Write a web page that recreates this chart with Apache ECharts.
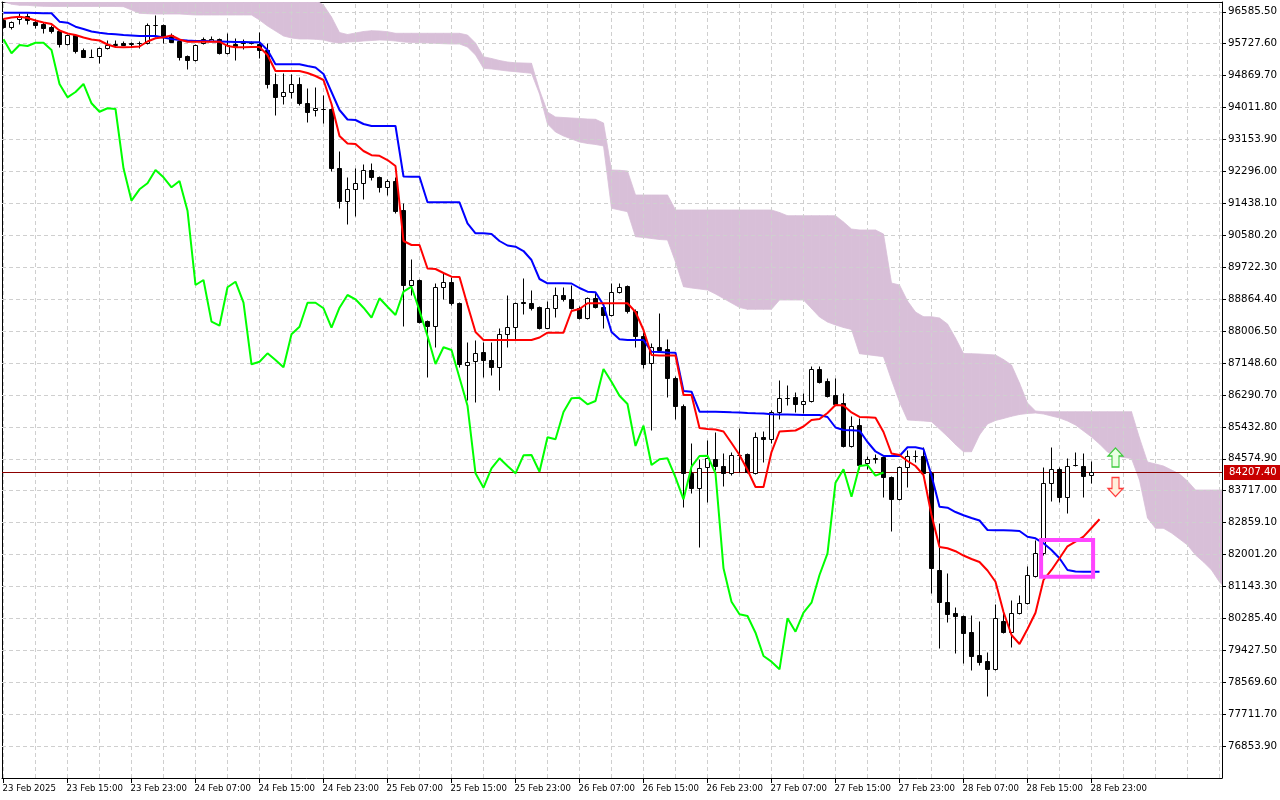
<!DOCTYPE html>
<html><head><meta charset="utf-8">
<script src="https://cdn.jsdelivr.net/npm/echarts@6/dist/echarts.min.js"></script>
<style>html,body{margin:0;padding:0;background:#fff}#chart{width:1280px;height:800px}</style>
</head><body><div id="chart"></div>
<script>
const timeLabels = ['23 Feb 2025','23 Feb 15:00','23 Feb 23:00','24 Feb 07:00','24 Feb 15:00','24 Feb 23:00',
  '25 Feb 07:00','25 Feb 15:00','25 Feb 23:00','26 Feb 07:00','26 Feb 15:00','26 Feb 23:00',
  '27 Feb 07:00','27 Feb 15:00','27 Feb 23:00','28 Feb 07:00','28 Feb 15:00','28 Feb 23:00'];
const labelBars = [0,8,16,24,32,40,48,56,64,72,80,88,96,104,112,120,128,136];
const gridBars = [0,4,8,12,16,20,24,28,32,36,40,44,48,52,56,60,64,68,72,76,80,84,88,92,96,100,104,108,112,116,120,124,128,132,136,140,144,148,152];
const yTicks = [96585.5,95727.6,94869.7,94011.8,93153.9,92296.0,91438.1,90580.2,89722.3,88864.4,88006.5,87148.6,
  86290.7,85432.8,84574.9,83717.0,82859.1,82001.2,81143.3,80285.4,79427.5,78569.6,77711.7,76853.9];

const opens = [96365,96169,96400,96473,96320,96258,96185,96078,95712,95962,
 95559,95384,95398,95605,95693,95755,95731,95736,95739,96228,
 96231,95962,95809,95398,95290,95739,95809,95847,95470,95720,
 95761,95750,95720,95559,94646,94323,94423,94646,94143,93939,
 93966,93974,92397,91510,91816,91977,92335,92155,91870,92039,
 91260,89245,89379,88285,88151,89183,89333,88769,87095,87203,
 87436,87229,87033,87920,88124,88782,88753,88645,88097,88635,
 88976,88860,88635,88366,88887,88662,88439,89065,89218,88554,
 87874,87141,87587,87517,86754,86001,84185,83798,84346,84561,
 84381,84185,84669,84696,84201,85152,85099,85832,86208,86227,
 86047,86128,86988,86665,86289,86066,84919,85483,84454,84580,
 84615,84077,83486,84362,84655,84650,84201,81587,80735,80423,
 80351,79929,79303,79150,78919,80216,79929,80439,80708,81434,
 82035,83933,84293,83556,84395,84381,84139];
const highs = [96419,96338,96545,96545,96392,96312,96231,96123,95989,95989,
 95605,95586,95640,95828,95828,95788,95782,95801,96293,96500,
 96258,96016,95828,95425,95720,95917,95935,95882,96024,95874,
 95847,95801,96051,95755,94941,94933,94914,94842,94530,94557,
 94350,94001,92845,92155,92380,92496,92515,92174,92093,92155,
 91440,89935,89406,88304,89290,89575,89452,88788,87721,87767,
 87721,87721,88081,88976,88788,89425,89110,88680,88823,89183,
 89199,89245,88680,88922,89065,88707,89290,89290,89245,88600,
 87990,87678,88484,87786,86800,86047,85007,84561,85080,85303,
 84722,84765,85394,84731,85303,85330,85886,86692,86558,86378,
 86335,87068,87068,86738,86738,86351,85733,85679,84650,84704,
 84650,84112,84381,84811,84811,84892,84247,82842,81498,80601,
 80378,80378,80224,79391,80673,80466,80781,80915,81694,82393,
 84346,84900,84354,84588,84765,84722,84524];
const lows = [96150,96115,96258,96258,96142,96024,96016,95640,95693,95487,
 95363,95371,95210,95599,95648,95693,95648,95613,95720,95917,
 95739,95774,95290,95041,95264,95720,95788,95452,95452,95290,
 95578,95720,95336,94530,93813,94108,94261,94081,93633,93786,
 93590,92316,91306,90876,91107,91547,92066,91752,91663,91171,
 88143,88976,88216,86781,87587,88860,88699,87049,86155,86109,
 86781,86826,86423,87571,87767,88457,88573,88062,88089,88377,
 88815,88600,88331,88331,88627,88081,88412,89030,88484,87571,
 87006,85349,87444,86243,85636,83288,83664,82213,83406,84274,
 83844,84139,84228,84193,84166,84497,85007,85636,86020,85840,
 85813,86101,86611,86235,86020,84892,84892,84293,84293,84470,
 83556,82643,83468,83825,84489,84139,80961,79483,80198,79348,
 79080,78900,79034,78201,78900,79894,79526,80404,80673,81399,
 81990,83449,83422,83127,84368,83540,83933];
const closes = [96190,96303,96473,96365,96231,96158,96078,95712,95962,95540,
 95379,95379,95605,95693,95720,95702,95739,95739,96231,96236,
 95917,95782,95379,95290,95693,95847,95847,95470,95693,95667,
 95755,95755,95559,94646,94288,94431,94646,94127,93901,93993,
 93974,92380,91510,91816,91977,92335,92139,91870,92039,91241,
 89245,89379,88259,88151,89183,89333,88769,87114,87184,87409,
 87229,87033,87920,88124,88769,88769,88619,88097,88635,88976,
 88860,88635,88366,88887,88662,88439,89065,89199,88554,87874,
 87122,87571,87498,86754,86001,84185,83798,84319,84588,84381,
 84185,84669,84677,84228,85152,85099,85832,86200,86216,86039,
 86128,86988,86646,86270,86047,84919,85464,84408,84561,84588,
 84077,83486,84362,84650,84658,84185,81632,80735,80396,80351,
 79902,79276,79123,78919,80289,79929,80439,80708,81452,82035,
 83933,84293,83556,84381,84408,84121,84207.4];

const tenkan = [96392,96432,96454,96419,96352,96298,96258,96083,96003,95962,
 95895,95841,95814,95707,95640,95632,95640,95653,95788,95874,
 95900,95949,95841,95782,95782,95782,95782,95782,95667,95632,
 95632,95640,95640,95425,94995,94995,94995,94995,94941,94861,
 94753,94108,93248,93047,93033,92845,92732,92716,92603,92442,
 90427,90319,90319,89688,89675,89567,89468,89460,88707,87982,
 87767,87767,87767,87767,87767,87767,87767,87834,87963,87963,
 87963,88546,88600,88753,88753,88753,88753,88753,88753,88519,
 88036,87364,87350,87350,87350,86289,86289,85402,85375,85362,
 85308,84999,84677,84274,83817,83817,84757,85308,85322,85335,
 85443,85617,85644,85805,86020,86007,85819,85698,85690,85679,
 85295,84717,84677,84516,84381,84139,83065,82205,82170,82092,
 81976,81882,81802,81573,81272,80458,79840,79598,80001,80439,
 81318,81587,81901,82224,82347,82482,82715,82949];
const kijun = [96561,96561,96561,96561,96553,96545,96545,96320,96293,96185,
 96123,96056,96024,95997,95981,95962,95949,95935,95935,95935,
 95895,95855,95828,95814,95801,95801,95793,95788,95782,95774,
 95774,95766,95766,95559,95175,95175,95175,95175,95129,95089,
 94914,94431,93947,93692,93678,93571,93517,93517,93517,93517,
 92160,92155,92155,91467,91467,91467,91467,91467,90903,90634,
 90634,90615,90427,90306,90274,90158,89916,89406,89290,89290,
 89290,89285,89164,89065,89049,88707,87982,87786,87767,87767,
 87767,87452,87444,87431,87426,86396,86378,85840,85840,85840,
 85832,85824,85819,85805,85797,85792,85770,85765,85762,85757,
 85752,85752,85752,85698,85416,85349,85340,85330,85026,84771,
 84650,84650,84650,84884,84884,84838,84126,83288,83261,83145,
 83057,82984,82917,82662,82656,82653,82648,82635,82479,82439,
 82304,82124,81901,81587,81546,81541,81541,81541];
const chikouShift = 26;

const cloudUpper = [97300,97300,97300,97300,97300,97300,97300,97300,97300,97300,
 97300,97300,97300,97300,97300,97300,97300,97300,97300,97300,
 97300,97300,97300,97300,97300,97300,97300,97300,97300,97300,
 97300,97250,97250,97250,97250,97250,97150,97050,96980,96900,
 96768,96446,96029,95976,96016,96056,96078,96070,96051,96008,
 96008,96008,96008,96008,96008,96008,96008,96008,95962,95747,
 95379,95331,95277,95237,95215,95210,95202,94484,93893,93759,
 93745,93732,93719,93705,93697,93598,92335,92327,92308,91663,
 91663,91663,91663,91663,91260,91260,91260,91260,91260,91260,
 91260,91260,91260,91260,91260,91260,91260,91193,91107,91107,
 91107,91107,91107,91107,91107,90938,90749,90723,90723,90723,
 90615,89298,89245,88815,88519,88393,88393,88358,88197,87820,
 87404,87399,87391,87377,87364,87243,87095,86611,86074,85859,
 85840,85840,85840,85840,85840,85840,85840,85840,85840,85840,
 85840,85840,85134,84489,84435,84381,84274,84166,83978,83736,
 83736,83736,83736,83736];
const cloudLower = [96860,96790,96760,96760,96741,96733,96728,96728,96728,96728,
 96728,96728,96728,96728,96728,96723,96634,96545,96535,96526,
 96526,96526,96526,96513,96500,96500,96500,96500,96500,96500,
 96500,96500,96365,96204,96070,95935,95882,95855,95855,95847,
 95828,95774,95739,95774,95782,95801,95814,95828,95820,95801,
 95774,95761,95755,95747,95739,95728,95720,95720,95640,95425,
 95067,95049,95022,94995,94976,94955,94933,94377,93571,93356,
 93248,93168,93087,93047,93020,92980,91306,91260,91214,90543,
 90521,90494,90467,90454,89863,89199,89164,89137,89110,89003,
 88882,88761,88640,88592,88592,88592,88592,88842,88842,88842,
 88842,88613,88385,88250,88170,88103,88049,87399,87372,87345,
 87318,86692,86101,85617,85604,85590,85572,85375,85174,84959,
 84765,84765,85214,85510,85604,85658,85717,85765,85792,85805,
 85778,85724,85671,85590,85483,85322,85160,84972,84757,84650,
 84610,84583,84005,82984,82707,82707,82581,82420,82258,81990,
 81802,81587,81264,81049];

const lastPrice = 84207.4;
const arrowUp = [139, 84610];
const arrowDown = [139, 83817];
const boxFrom = [129.7, 82393];
const boxTo = [136.2, 81407];

const xMin = -0.1875, xMax = 152.3125;
const yMin = 75997.7, yMax = 96848.9;
const FONT = 'DejaVu Sans';
const CLOUD = '#D8BFD8';

const candleData = opens.map((o, i) => [i, o, closes[i], lows[i], highs[i]]);
const chikouData = closes.slice(chikouShift).map((c, i) => [i, c]);
const cloudData = [];
for (let i = 0; i < cloudUpper.length - 1; i++) {
  cloudData.push([i, cloudUpper[i], cloudLower[i], cloudUpper[i + 1], cloudLower[i + 1]]);
}

function renderCloud(params, api) {
  const i = api.value(0);
  const pts = [
    api.coord([i, api.value(1)]),
    api.coord([i + 1, api.value(3)]),
    api.coord([i + 1, api.value(4)]),
    api.coord([i, api.value(2)])
  ];
  return { type: 'polygon', shape: { points: pts },
    style: { fill: CLOUD, stroke: CLOUD, lineWidth: 0.8 } };
}

function renderCandle(params, api) {
  const i = api.value(0), o = api.value(1), c = api.value(2), l = api.value(3), h = api.value(4);
  const pO = api.coord([i, o]), pC = api.coord([i, c]), pL = api.coord([i, l]), pH = api.coord([i, h]);
  const cx = Math.floor(pO[0]) + 0.5;
  const yTop = Math.round(Math.min(pO[1], pC[1])) + 0.5;
  const yBot = Math.round(Math.max(pO[1], pC[1])) + 0.5;
  const bull = c >= o;
  return {
    type: 'group',
    children: [
      { type: 'line', shape: { x1: cx, y1: Math.round(pH[1]) + 0.5, x2: cx, y2: Math.round(pL[1]) + 0.5 },
        style: { stroke: '#000', lineWidth: 1 } },
      { type: 'rect', shape: { x: cx - 2, y: yTop, width: 4, height: yBot - yTop },
        style: { fill: bull ? '#fff' : '#000', stroke: '#000', lineWidth: 1 } }
    ]
  };
}

const chart = echarts.init(document.getElementById('chart'), null, { renderer: 'canvas' });
chart.setOption({
  animation: false,
  backgroundColor: '#ffffff',
  grid: { left: 2, right: 58, top: 2, bottom: 22, outerBoundsMode: 'none' },
  xAxis: [
    { type: 'value', min: xMin, max: xMax, position: 'bottom',
      axisLine: { show: true, onZero: false, lineStyle: { color: '#000', width: 1 } },
      axisTick: { show: true, customValues: labelBars, length: 5, lineStyle: { color: '#000' } },
      axisLabel: { customValues: labelBars, formatter: v => timeLabels[Math.round(v / 8)], align: 'left',
        color: '#000', fontSize: 8.6, fontFamily: FONT, margin: 6, padding: [0, 0, 0, -1] },
      splitLine: { show: false } },
    { type: 'value', min: xMin, max: xMax, position: 'top',
      axisLine: { show: true, onZero: false, lineStyle: { color: '#000', width: 1 } },
      axisTick: { show: false }, axisLabel: { show: false }, splitLine: { show: false } }
  ],
  yAxis: [
    { type: 'value', min: yMin, max: yMax, position: 'right',
      axisLine: { show: true, onZero: false, lineStyle: { color: '#000', width: 1 } },
      axisTick: { show: true, customValues: yTicks, length: 4, lineStyle: { color: '#000' } },
      axisLabel: { customValues: yTicks, formatter: v => v.toFixed(2), color: '#000', fontSize: 10.3,
        fontFamily: FONT, margin: 6 },
      splitLine: { show: false } },
    { type: 'value', min: yMin, max: yMax, position: 'left',
      axisLine: { show: true, onZero: false, lineStyle: { color: '#000', width: 1 } },
      axisTick: { show: false }, axisLabel: { show: false }, splitLine: { show: false } }
  ],
  series: [
    { name: 'cloud', type: 'custom', z: 1, silent: true, clip: true, renderItem: renderCloud,
      encode: { x: 0, y: [1, 2] }, data: cloudData },
    { name: 'gridlines', type: 'line', z: 2, silent: true, symbol: 'none',
      data: cloudLower.map((v, i) => [i, v]), lineStyle: { opacity: 0, width: 0 },
      markLine: { silent: true, z: 2, symbol: ['none', 'none'], label: { show: false },
        lineStyle: { color: '#CFCFCF', width: 1, type: [4, 3] },
        data: gridBars.map(v => ({ xAxis: v })).concat(yTicks.map(v => ({ yAxis: v }))) } },
    { name: 'candles', type: 'custom', z: 3, silent: true, clip: true, renderItem: renderCandle,
      encode: { x: 0, y: [1, 2, 3, 4] }, data: candleData },
    { name: 'chikou', type: 'line', z: 4, silent: true, symbol: 'none', data: chikouData,
      lineStyle: { color: '#00FF00', width: 2 } },
    { name: 'kijun', type: 'line', z: 4, silent: true, symbol: 'none', data: kijun.map((v, i) => [i, v]),
      lineStyle: { color: '#0000FF', width: 2 },
      markArea: { silent: true, z: 10, label: { show: false },
        itemStyle: { color: 'rgba(0,0,0,0)', borderColor: '#FF44FF', borderWidth: 4 },
        data: [[{ coord: boxFrom }, { coord: boxTo }]] },
      markPoint: { silent: true, z: 10, label: { show: false }, symbolKeepAspect: false,
        data: [
          { coord: arrowUp, symbol: 'path://M7.5,0 L15,8 L11,8 L11,19 L4,19 L4,8 L0,8 Z', symbolSize: [15, 19],
            itemStyle: { color: '#EAFFE4', borderColor: '#3CCB3C', borderWidth: 1.2 } },
          { coord: arrowDown, symbol: 'path://M4,0 L11,0 L11,11 L15,11 L7.5,19 L0,11 L4,11 Z', symbolSize: [15, 19],
            itemStyle: { color: '#FFF0DC', borderColor: '#FF3C3C', borderWidth: 1.2 } }
        ] } },
    { name: 'tenkan', type: 'line', z: 4, silent: true, symbol: 'none', data: tenkan.map((v, i) => [i, v]),
      lineStyle: { color: '#FF0000', width: 2 },
      markLine: { silent: true, z: 3, symbol: ['none', 'none'], precision: 2,
        lineStyle: { color: '#8C0000', width: 1, type: 'solid' },
        label: { show: true, position: 'end', distance: 2, formatter: p => Number(p.value).toFixed(2),
          color: '#fff', backgroundColor: '#C80000', padding: [3, 5, 2, 5], fontSize: 10, fontFamily: FONT },
        data: [{ yAxis: lastPrice }] } }
  ]
});
</script>
</body></html>
